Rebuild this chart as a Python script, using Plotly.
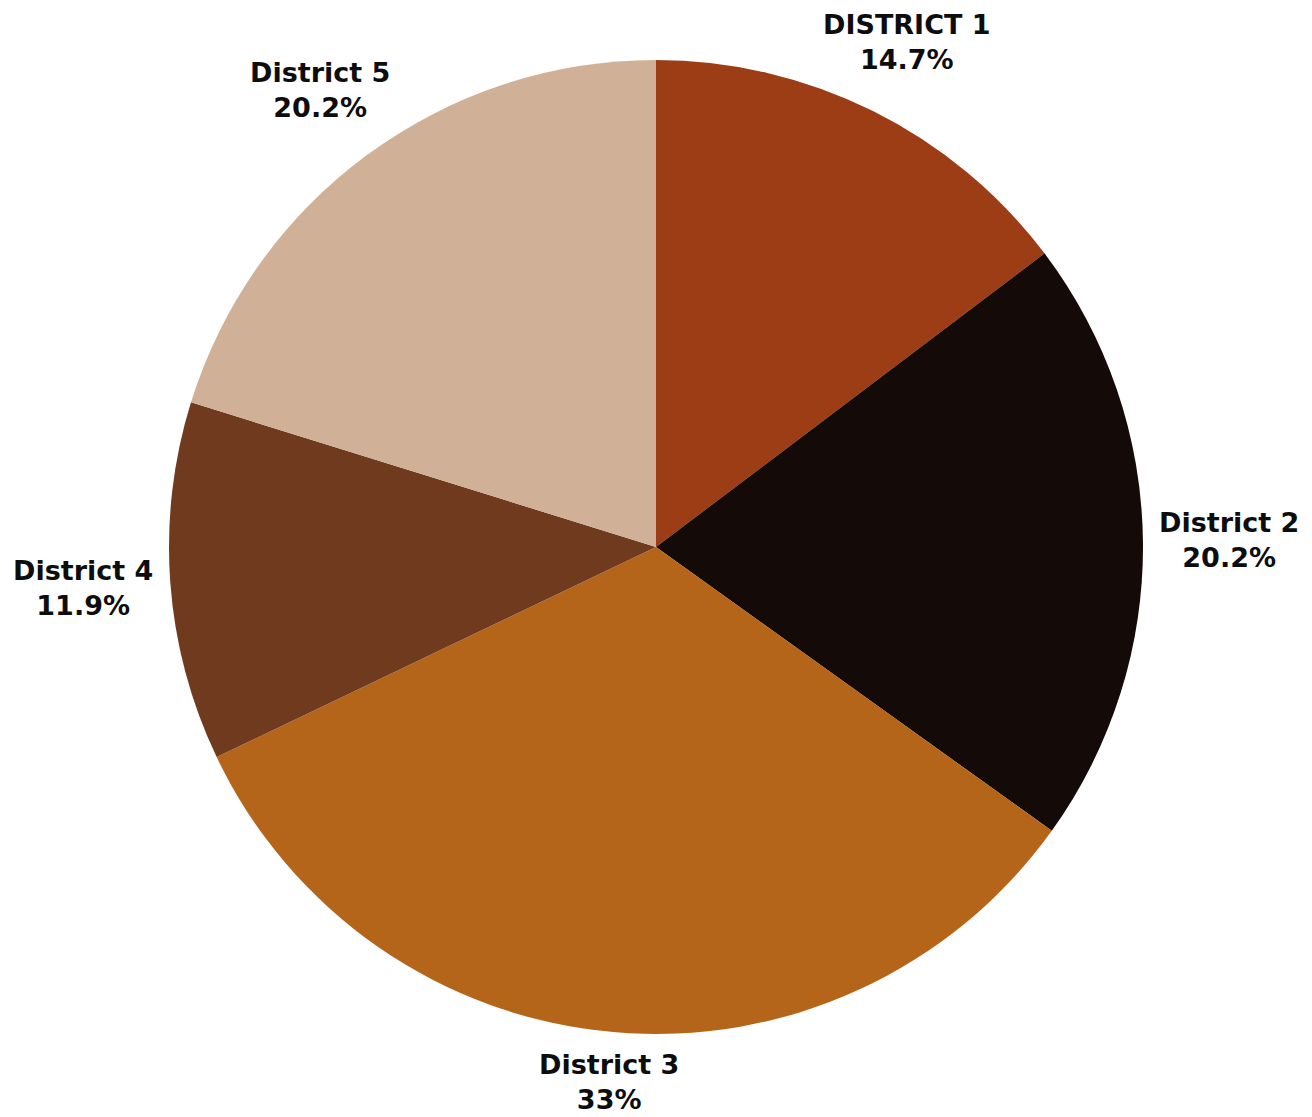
import math
import plotly.graph_objects as go

labels = ["DISTRICT 1", "District 2", "District 3", "District 4", "District 5"]
values = [14.7, 20.2, 33.0, 11.9, 20.2]
pct_text = ["14.7%", "20.2%", "33%", "11.9%", "20.2%"]
colors = ["#9C3D16", "#140A07", "#B5651A", "#6F3A1E", "#D0B096"]

W, H = 1312, 1117
M_T, M_B = 60, 83
plot_h = H - M_T - M_B
R_PX = plot_h / 2.0
FONT_SIZE = 27
OFFSET = 15

fig = go.Figure(go.Pie(
    labels=labels,
    values=values,
    textinfo="none",
    sort=False,
    direction="clockwise",
    rotation=0,
    marker=dict(colors=colors, line=dict(width=0)),
    showlegend=False,
    hoverinfo="label+percent",
))

total = sum(values)
cum = 0.0
for lab, val, pt in zip(labels, values, pct_text):
    mid = (cum + val / 2.0) / total * 2 * math.pi
    cum += val
    sx, cy = math.sin(mid), math.cos(mid)
    lines = [lab, pt]
    longest = max(lines, key=len)
    factor = 0.6 if longest.isupper() else 0.52
    w = len(longest) * FONT_SIZE * factor
    h = 58
    r = R_PX + OFFSET + abs(sx) * w / 2 + abs(cy) * h / 2
    dx_px = r * sx
    dy_px = r * cy
    fig.add_annotation(
        x=0.5 + dx_px / W,
        y=0.5 + dy_px / plot_h,
        xref="paper", yref="paper",
        text=f"{lab}<br>{pt}",
        showarrow=False,
        xanchor="center", yanchor="middle",
        align="center",
        font=dict(family="DejaVu Sans", size=FONT_SIZE, color="#0D0D0D", weight="bold"),
    )

fig.update_layout(
    width=W, height=H,
    margin=dict(l=0, r=0, t=M_T, b=M_B),
    paper_bgcolor="white",
    plot_bgcolor="white",
)
fig.write_html("out.html")
